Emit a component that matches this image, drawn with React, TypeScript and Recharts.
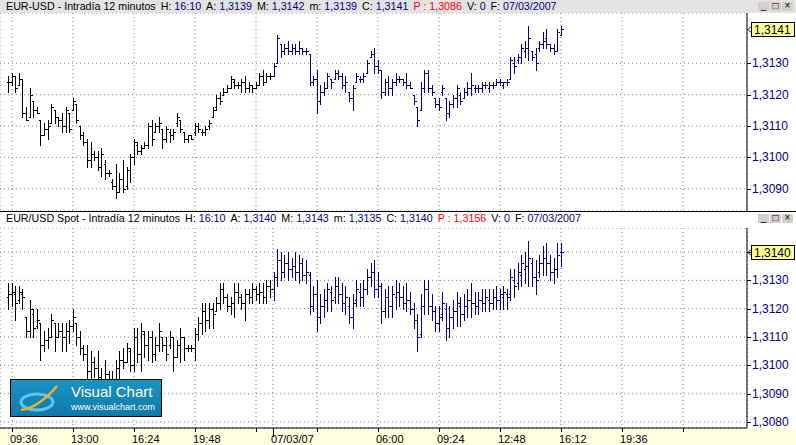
import React from 'react';
import { ComposedChart, Bar, XAxis, YAxis, CartesianGrid, ReferenceLine } from 'recharts';

type Ohlc = [number, number, number, number]; // open, high, low, close

// 12 minute bars. t = bar count from 09:36 of 06/03/2007
const DAY1_FIRST_T = -1;
const DAY2_FIRST_T = 73;

const topDay1: Ohlc[] = [
  [1.3124, 1.3126, 1.3121, 1.3124], [1.3124, 1.3127, 1.3123, 1.3126], [1.3126, 1.3126, 1.3121, 1.3122],
  [1.3123, 1.3127, 1.3123, 1.3125], [1.3125, 1.3125, 1.3113, 1.3114], [1.3114, 1.3116, 1.3112, 1.3112],
  [1.3113, 1.3122, 1.3113, 1.3120], [1.3118, 1.3118, 1.3113, 1.3115], [1.3115, 1.3116, 1.3114, 1.3114],
  [1.3112, 1.3112, 1.3104, 1.3107], [1.3107, 1.3111, 1.3107, 1.3109], [1.3109, 1.3112, 1.3106, 1.3110],
  [1.3111, 1.3117, 1.3111, 1.3116], [1.3115, 1.3115, 1.3111, 1.3113], [1.3113, 1.3113, 1.3110, 1.3112],
  [1.3112, 1.3114, 1.3108, 1.3110], [1.3110, 1.3116, 1.3108, 1.3115], [1.3114, 1.3114, 1.3108, 1.3109],
  [1.3115, 1.3119, 1.3115, 1.3118], [1.3117, 1.3117, 1.3111, 1.3112], [1.3110, 1.3110, 1.3106, 1.3107],
  [1.3107, 1.3108, 1.3104, 1.3105], [1.3105, 1.3106, 1.3097, 1.3099], [1.3099, 1.3105, 1.3097, 1.3101],
  [1.3101, 1.3102, 1.3099, 1.3100], [1.3100, 1.3102, 1.3096, 1.3097], [1.3097, 1.3103, 1.3094, 1.3101],
  [1.3098, 1.3099, 1.3093, 1.3095], [1.3095, 1.3096, 1.3094, 1.3095], [1.3092, 1.3093, 1.3090, 1.3091],
  [1.3091, 1.3098, 1.3087, 1.3089], [1.3089, 1.3095, 1.3089, 1.3093], [1.3093, 1.3099, 1.3089, 1.3090],
  [1.3091, 1.3097, 1.3090, 1.3096], [1.3096, 1.3101, 1.3092, 1.3100], [1.3100, 1.3106, 1.3098, 1.3105],
  [1.3104, 1.3105, 1.3101, 1.3102], [1.3102, 1.3104, 1.3101, 1.3103], [1.3103, 1.3105, 1.3103, 1.3104],
  [1.3104, 1.3111, 1.3103, 1.3110], [1.3110, 1.3112, 1.3104, 1.3106], [1.3108, 1.3111, 1.3108, 1.3110],
  [1.3110, 1.3113, 1.3108, 1.3111], [1.3109, 1.3109, 1.3103, 1.3106], [1.3106, 1.3110, 1.3105, 1.3109],
  [1.3108, 1.3109, 1.3105, 1.3107], [1.3107, 1.3109, 1.3106, 1.3108], [1.3111, 1.3114, 1.3110, 1.3113],
  [1.3112, 1.3112, 1.3108, 1.3109], [1.3108, 1.3108, 1.3105, 1.3106], [1.3106, 1.3107, 1.3105, 1.3107],
  [1.3107, 1.3107, 1.3106, 1.3106], [1.3108, 1.3111, 1.3107, 1.3110], [1.3110, 1.3111, 1.3108, 1.3109],
  [1.3108, 1.3109, 1.3107, 1.3108], [1.3108, 1.3110, 1.3107, 1.3109], [1.3110, 1.3112, 1.3109, 1.3111],
  [1.3113, 1.3116, 1.3113, 1.3115], [1.3116, 1.3120, 1.3115, 1.3119], [1.3119, 1.3121, 1.3117, 1.3118],
  [1.3120, 1.3122, 1.3120, 1.3121], [1.3121, 1.3123, 1.3121, 1.3122], [1.3122, 1.3126, 1.3122, 1.3125],
  [1.3124, 1.3125, 1.3122, 1.3123], [1.3123, 1.3124, 1.3122, 1.3123], [1.3123, 1.3125, 1.3121, 1.3124],
  [1.3124, 1.3126, 1.3121, 1.3122], [1.3122, 1.3124, 1.3121, 1.3123], [1.3123, 1.3123, 1.3121, 1.3122],
  [1.3122, 1.3124, 1.3122, 1.3123], [1.3123, 1.3127, 1.3123, 1.3126], [1.3126, 1.3128, 1.3123, 1.3124],
  [1.3124, 1.3127, 1.3124, 1.3126], [1.3126, 1.3127, 1.3125, 1.3126],
];

const topDay2: Ohlc[] = [
  [1.3126, 1.3130, 1.3126, 1.3129], [1.3130, 1.3139, 1.3130, 1.3138], [1.3136, 1.3136, 1.3132, 1.3134],
  [1.3134, 1.3136, 1.3133, 1.3135], [1.3135, 1.3137, 1.3133, 1.3134], [1.3134, 1.3136, 1.3133, 1.3135],
  [1.3135, 1.3136, 1.3133, 1.3134], [1.3134, 1.3137, 1.3133, 1.3135], [1.3135, 1.3135, 1.3133, 1.3134],
  [1.3134, 1.3135, 1.3133, 1.3134], [1.3133, 1.3133, 1.3123, 1.3124], [1.3124, 1.3126, 1.3123, 1.3125],
  [1.3125, 1.3128, 1.3114, 1.3118], [1.3118, 1.3123, 1.3117, 1.3121], [1.3121, 1.3124, 1.3120, 1.3122],
  [1.3122, 1.3127, 1.3122, 1.3126], [1.3125, 1.3125, 1.3122, 1.3124], [1.3125, 1.3128, 1.3125, 1.3127],
  [1.3127, 1.3128, 1.3125, 1.3126], [1.3126, 1.3127, 1.3122, 1.3123], [1.3123, 1.3126, 1.3121, 1.3124],
  [1.3121, 1.3121, 1.3118, 1.3119], [1.3119, 1.3123, 1.3115, 1.3122], [1.3124, 1.3127, 1.3124, 1.3126],
  [1.3125, 1.3126, 1.3124, 1.3125], [1.3125, 1.3127, 1.3124, 1.3126], [1.3127, 1.3131, 1.3127, 1.3130],
  [1.3132, 1.3134, 1.3132, 1.3133], [1.3133, 1.3135, 1.3127, 1.3129], [1.3129, 1.3131, 1.3127, 1.3128],
  [1.3128, 1.3128, 1.3119, 1.3121], [1.3121, 1.3125, 1.3120, 1.3124], [1.3124, 1.3126, 1.3120, 1.3122],
  [1.3122, 1.3125, 1.3120, 1.3124], [1.3124, 1.3127, 1.3123, 1.3125], [1.3125, 1.3126, 1.3124, 1.3125],
  [1.3125, 1.3125, 1.3123, 1.3124], [1.3124, 1.3127, 1.3122, 1.3123], [1.3123, 1.3124, 1.3122, 1.3122],
  [1.3120, 1.3120, 1.3117, 1.3118], [1.3116, 1.3116, 1.3110, 1.3112], [1.3115, 1.3124, 1.3115, 1.3122],
  [1.3122, 1.3128, 1.3121, 1.3127], [1.3127, 1.3128, 1.3121, 1.3122], [1.3122, 1.3123, 1.3120, 1.3121],
  [1.3119, 1.3119, 1.3116, 1.3117], [1.3117, 1.3119, 1.3115, 1.3116], [1.3121, 1.3123, 1.3120, 1.3122],
  [1.3119, 1.3119, 1.3112, 1.3114], [1.3114, 1.3118, 1.3113, 1.3117], [1.3117, 1.3120, 1.3116, 1.3119],
  [1.3119, 1.3123, 1.3116, 1.3122], [1.3120, 1.3121, 1.3117, 1.3118], [1.3119, 1.3122, 1.3119, 1.3121],
  [1.3121, 1.3124, 1.3120, 1.3122], [1.3122, 1.3127, 1.3120, 1.3123], [1.3122, 1.3123, 1.3121, 1.3122],
  [1.3122, 1.3123, 1.3121, 1.3122], [1.3122, 1.3124, 1.3121, 1.3123], [1.3123, 1.3124, 1.3122, 1.3123],
  [1.3122, 1.3124, 1.3121, 1.3123], [1.3123, 1.3124, 1.3122, 1.3123], [1.3123, 1.3125, 1.3123, 1.3124],
  [1.3124, 1.3125, 1.3123, 1.3124], [1.3123, 1.3124, 1.3122, 1.3124], [1.3124, 1.3125, 1.3123, 1.3124],
  [1.3125, 1.3132, 1.3125, 1.3131], [1.3130, 1.3132, 1.3127, 1.3129], [1.3131, 1.3133, 1.3130, 1.3132],
  [1.3132, 1.3136, 1.3130, 1.3135], [1.3134, 1.3137, 1.3132, 1.3135], [1.3135, 1.3142, 1.3131, 1.3138],
  [1.3134, 1.3134, 1.3131, 1.3132], [1.3133, 1.3135, 1.3128, 1.3130], [1.3135, 1.3137, 1.3134, 1.3136],
  [1.3136, 1.3140, 1.3135, 1.3137], [1.3138, 1.3141, 1.3135, 1.3136], [1.3136, 1.3136, 1.3134, 1.3135],
  [1.3135, 1.3136, 1.3133, 1.3134], [1.3134, 1.3141, 1.3134, 1.3140], [1.3139, 1.3142, 1.3139, 1.3141],
];

const botDay1: Ohlc[] = [
  [1.3124, 1.3129, 1.3120, 1.3125], [1.3125, 1.3129, 1.3121, 1.3126], [1.3125, 1.3128, 1.3116, 1.3122],
  [1.3123, 1.3128, 1.3122, 1.3126], [1.3125, 1.3127, 1.3120, 1.3124], [1.3117, 1.3117, 1.3110, 1.3112],
  [1.3112, 1.3123, 1.3110, 1.3120], [1.3118, 1.3120, 1.3110, 1.3113], [1.3114, 1.3120, 1.3113, 1.3116],
  [1.3115, 1.3115, 1.3102, 1.3107], [1.3107, 1.3112, 1.3105, 1.3109], [1.3109, 1.3113, 1.3106, 1.3110],
  [1.3110, 1.3118, 1.3110, 1.3116], [1.3115, 1.3115, 1.3105, 1.3110], [1.3110, 1.3115, 1.3110, 1.3112],
  [1.3112, 1.3115, 1.3105, 1.3110], [1.3110, 1.3115, 1.3105, 1.3112], [1.3112, 1.3116, 1.3108, 1.3114],
  [1.3114, 1.3120, 1.3112, 1.3117], [1.3115, 1.3115, 1.3107, 1.3110], [1.3110, 1.3112, 1.3104, 1.3106],
  [1.3106, 1.3107, 1.3102, 1.3104], [1.3104, 1.3107, 1.3095, 1.3098], [1.3098, 1.3105, 1.3093, 1.3101],
  [1.3101, 1.3103, 1.3096, 1.3099], [1.3099, 1.3105, 1.3093, 1.3096], [1.3096, 1.3099, 1.3092, 1.3094],
  [1.3094, 1.3102, 1.3091, 1.3097], [1.3097, 1.3098, 1.3089, 1.3092], [1.3092, 1.3098, 1.3088, 1.3095],
  [1.3095, 1.3102, 1.3091, 1.3099], [1.3099, 1.3105, 1.3093, 1.3102], [1.3102, 1.3106, 1.3099, 1.3101],
  [1.3101, 1.3108, 1.3101, 1.3106], [1.3105, 1.3106, 1.3098, 1.3100], [1.3100, 1.3113, 1.3098, 1.3110],
  [1.3110, 1.3113, 1.3101, 1.3104], [1.3104, 1.3115, 1.3098, 1.3112], [1.3111, 1.3112, 1.3103, 1.3107],
  [1.3107, 1.3112, 1.3102, 1.3110], [1.3110, 1.3112, 1.3101, 1.3104], [1.3104, 1.3110, 1.3102, 1.3107],
  [1.3107, 1.3115, 1.3105, 1.3112], [1.3110, 1.3110, 1.3105, 1.3107], [1.3107, 1.3110, 1.3102, 1.3104],
  [1.3107, 1.3112, 1.3106, 1.3110], [1.3110, 1.3110, 1.3098, 1.3103], [1.3103, 1.3109, 1.3103, 1.3107],
  [1.3107, 1.3113, 1.3101, 1.3110], [1.3110, 1.3110, 1.3102, 1.3106], [1.3106, 1.3107, 1.3105, 1.3106],
  [1.3106, 1.3107, 1.3105, 1.3106], [1.3106, 1.3113, 1.3102, 1.3111], [1.3111, 1.3117, 1.3109, 1.3115],
  [1.3115, 1.3122, 1.3111, 1.3119], [1.3119, 1.3122, 1.3112, 1.3116], [1.3116, 1.3122, 1.3113, 1.3120],
  [1.3120, 1.3122, 1.3113, 1.3118], [1.3119, 1.3124, 1.3119, 1.3122], [1.3122, 1.3129, 1.3120, 1.3127],
  [1.3127, 1.3129, 1.3122, 1.3124], [1.3124, 1.3125, 1.3119, 1.3121], [1.3121, 1.3124, 1.3118, 1.3122],
  [1.3122, 1.3129, 1.3117, 1.3126], [1.3126, 1.3129, 1.3122, 1.3124], [1.3124, 1.3125, 1.3120, 1.3122],
  [1.3122, 1.3127, 1.3116, 1.3125], [1.3125, 1.3127, 1.3122, 1.3124], [1.3124, 1.3129, 1.3122, 1.3127],
  [1.3127, 1.3128, 1.3123, 1.3125], [1.3125, 1.3129, 1.3122, 1.3126], [1.3126, 1.3129, 1.3122, 1.3124],
  [1.3124, 1.3130, 1.3122, 1.3128], [1.3128, 1.3130, 1.3124, 1.3127],
];

const botDay2: Ohlc[] = [
  [1.3127, 1.3133, 1.3123, 1.3131], [1.3131, 1.3141, 1.3128, 1.3137], [1.3137, 1.3140, 1.3130, 1.3133],
  [1.3133, 1.3139, 1.3131, 1.3136], [1.3136, 1.3140, 1.3130, 1.3134], [1.3134, 1.3138, 1.3131, 1.3135],
  [1.3135, 1.3140, 1.3130, 1.3133], [1.3133, 1.3139, 1.3129, 1.3136], [1.3136, 1.3138, 1.3130, 1.3132],
  [1.3132, 1.3137, 1.3129, 1.3133], [1.3132, 1.3133, 1.3118, 1.3121], [1.3121, 1.3128, 1.3119, 1.3125],
  [1.3125, 1.3130, 1.3112, 1.3117], [1.3117, 1.3125, 1.3115, 1.3121], [1.3121, 1.3127, 1.3117, 1.3123],
  [1.3123, 1.3129, 1.3119, 1.3127], [1.3126, 1.3128, 1.3119, 1.3123], [1.3124, 1.3131, 1.3122, 1.3128],
  [1.3128, 1.3131, 1.3122, 1.3125], [1.3125, 1.3129, 1.3119, 1.3122], [1.3122, 1.3128, 1.3118, 1.3124],
  [1.3121, 1.3124, 1.3115, 1.3117], [1.3117, 1.3125, 1.3113, 1.3122], [1.3123, 1.3130, 1.3121, 1.3127],
  [1.3126, 1.3129, 1.3121, 1.3124], [1.3124, 1.3130, 1.3121, 1.3127], [1.3127, 1.3134, 1.3125, 1.3131],
  [1.3131, 1.3136, 1.3128, 1.3133], [1.3133, 1.3137, 1.3124, 1.3127], [1.3127, 1.3133, 1.3124, 1.3128],
  [1.3128, 1.3129, 1.3115, 1.3119], [1.3119, 1.3127, 1.3117, 1.3124], [1.3124, 1.3128, 1.3117, 1.3121],
  [1.3121, 1.3128, 1.3117, 1.3125], [1.3124, 1.3130, 1.3120, 1.3126], [1.3126, 1.3129, 1.3121, 1.3124],
  [1.3124, 1.3128, 1.3120, 1.3122], [1.3122, 1.3129, 1.3119, 1.3123], [1.3123, 1.3126, 1.3118, 1.3120],
  [1.3120, 1.3122, 1.3113, 1.3116], [1.3116, 1.3118, 1.3105, 1.3110], [1.3111, 1.3125, 1.3110, 1.3121],
  [1.3121, 1.3130, 1.3118, 1.3127], [1.3127, 1.3130, 1.3118, 1.3121], [1.3121, 1.3125, 1.3116, 1.3119],
  [1.3119, 1.3121, 1.3112, 1.3115], [1.3115, 1.3121, 1.3112, 1.3117], [1.3118, 1.3126, 1.3116, 1.3122],
  [1.3120, 1.3122, 1.3109, 1.3113], [1.3113, 1.3121, 1.3110, 1.3117], [1.3117, 1.3123, 1.3113, 1.3119],
  [1.3119, 1.3126, 1.3114, 1.3122], [1.3121, 1.3124, 1.3114, 1.3118], [1.3118, 1.3125, 1.3116, 1.3121],
  [1.3121, 1.3127, 1.3117, 1.3123], [1.3123, 1.3129, 1.3117, 1.3122], [1.3122, 1.3126, 1.3118, 1.3121],
  [1.3121, 1.3126, 1.3118, 1.3123], [1.3123, 1.3127, 1.3119, 1.3122], [1.3122, 1.3127, 1.3119, 1.3124],
  [1.3123, 1.3127, 1.3119, 1.3122], [1.3122, 1.3127, 1.3120, 1.3124], [1.3124, 1.3128, 1.3120, 1.3123],
  [1.3123, 1.3127, 1.3120, 1.3125], [1.3124, 1.3128, 1.3120, 1.3126], [1.3125, 1.3127, 1.3120, 1.3124],
  [1.3125, 1.3134, 1.3123, 1.3131], [1.3130, 1.3134, 1.3124, 1.3128], [1.3129, 1.3136, 1.3127, 1.3133],
  [1.3132, 1.3139, 1.3128, 1.3136], [1.3134, 1.3140, 1.3129, 1.3135], [1.3135, 1.3144, 1.3128, 1.3138],
  [1.3136, 1.3138, 1.3128, 1.3131], [1.3131, 1.3137, 1.3125, 1.3130], [1.3133, 1.3139, 1.3131, 1.3136],
  [1.3136, 1.3142, 1.3132, 1.3138], [1.3138, 1.3143, 1.3132, 1.3136], [1.3136, 1.3139, 1.3130, 1.3133],
  [1.3133, 1.3138, 1.3129, 1.3134], [1.3134, 1.3143, 1.3131, 1.3139], [1.3140, 1.3143, 1.3135, 1.3140],
];

const topTicks = [1.309, 1.31, 1.311, 1.312, 1.313];
const botTicks = [1.308, 1.309, 1.31, 1.311, 1.312, 1.313, 1.314];

const gridTimes = [0, 17, 34, 51, 68, 85, 102, 119, 136, 153, 170, 187];
const timeLabels: Record<number, string> = {
  0: '09:36', 17: '13:00', 34: '16:24', 51: '19:48', 102: '06:00',
  119: '09:24', 136: '12:48', 153: '16:12', 170: '19:36',
};
const DATE_T = 72.75;
const DATE_LABEL = '07/03/07';

const topInfo = {
  title: 'EUR-USD - Intradía 12 minutos',
  values: [['H:', '16:10'], ['A:', '1,3139'], ['M:', '1,3142'], ['m:', '1,3139'], ['C:', '1,3141']],
  prev: 'P : 1,3086', vol: '0', date: '07/03/2007',
};
const botInfo = {
  title: 'EUR/USD Spot - Intradía 12 minutos',
  values: [['H:', '16:10'], ['A:', '1,3140'], ['M:', '1,3143'], ['m:', '1,3135'], ['C:', '1,3140']],
  prev: 'P : 1,3156', vol: '0', date: '07/03/2007',
};

const FONT = '"Liberation Sans", Arial, sans-serif';
const NAVY = '#000080';
const X_DOMAIN: [number, number] = [-3.344, 204.84];

const toRows = (d1: Ohlc[], d2: Ohlc[]) => [
  ...d1.map(([o, h, l, c], k) => ({ t: DAY1_FIRST_T + k, o, h, l, c, day: 1 })),
  ...d2.map(([o, h, l, c], k) => ({ t: DAY2_FIRST_T + k, o, h, l, c, day: 2 })),
];
const topRows = toRows(topDay1, topDay2);
const botRows = toRows(botDay1, botDay2);

const fmt = (v: number) => v.toFixed(4).replace('.', ',');

const OhlcShape = (props: any) => {
  const { x, y, width, height, payload } = props;
  if (x == null || y == null) return null;
  const color = payload.day === 1 ? '#000000' : NAVY;
  const cx = Math.round(x + width / 2) + 0.5;
  const span = payload.h - payload.l;
  const py = (v: number) => Math.round(span === 0 ? y : y + ((payload.h - v) / span) * height) + 0.5;
  return (
    <g shapeRendering="crispEdges">
      <line x1={cx} x2={cx} y1={Math.round(y)} y2={Math.round(y + height) + 1} stroke={color} strokeWidth={1} />
      <line x1={cx - 2} x2={cx} y1={py(payload.o)} y2={py(payload.o)} stroke={color} strokeWidth={1} />
      <line x1={cx} x2={cx + 2} y1={py(payload.c)} y2={py(payload.c)} stroke={color} strokeWidth={1} />
    </g>
  );
};

const makePriceTick = (last: number) => (props: any) => {
  const { x, y, payload } = props;
  const hidden = Math.abs(payload.value - last) < 0.0004;
  return (
    <g>
      <line x1={x - 8} x2={x - 4} y1={Math.round(y) + 0.5} y2={Math.round(y) + 0.5} stroke="#000" shapeRendering="crispEdges" />
      {!hidden && <text x={x - 3} y={y + 4} fill={NAVY} fontSize={12} fontFamily={FONT}>{fmt(payload.value)}</text>}
    </g>
  );
};

const TimeTick = (props: any) => {
  const { x, y, payload } = props;
  const isDate = payload.value === DATE_T;
  const label = isDate ? DATE_LABEL : timeLabels[payload.value] || '';
  const xx = Math.round(x) + 0.5;
  return (
    <g>
      <line x1={xx} x2={xx} y1={y - 8} y2={y - 8 + (isDate ? 9 : 4)} stroke="#000" shapeRendering="crispEdges" />
      <text x={x - 2} y={y + 7} fill="#000" fontSize={11} fontFamily={FONT}>{label}</text>
    </g>
  );
};

const LastPrice = (props: any) => {
  const { viewBox, value } = props;
  if (!viewBox) return null;
  const ax = viewBox.x + viewBox.width;
  const cy = Math.round(viewBox.y);
  return (
    <g>
      <path d={`M${ax + 1},${cy + 0.5} L${ax + 4},${cy - 2.5} M${ax + 1},${cy + 0.5} L${ax + 4},${cy + 3.5}`} stroke="#000" />
      <rect x={ax + 4.5} y={cy - 6.5} width={43} height={14} fill="#ffff99" stroke="#000" shapeRendering="crispEdges" />
      <text x={ax + 7} y={cy + 5} fontSize={12} fontFamily={FONT} fill="#000">{fmt(value)}</text>
    </g>
  );
};

const WinButtons = ({ top }: { top: number }) => (
  <div style={{ position: 'absolute', left: 758, top, display: 'flex', gap: 1 }}>
    {['_', '□', '×'].map((s) => (
      <div key={s} style={{ width: 11, height: 9, background: '#d4d0c8', fontSize: 10, lineHeight: '8px', textAlign: 'center', color: '#000', fontFamily: FONT }}>{s}</div>
    ))}
  </div>
);

const Header = ({ info, top, bg }: { info: typeof topInfo; top: number; bg: string }) => (
  <div style={{ position: 'absolute', left: 0, top, width: 796, height: 13, background: bg, fontFamily: FONT, fontSize: 10.7, lineHeight: '13px', whiteSpace: 'nowrap', color: '#000' }}>
    <span style={{ marginLeft: 6 }}>{info.title}</span>
    {info.values.map(([k, v]) => (
      <span key={k} style={{ marginLeft: 5 }}>{k} <span style={{ color: NAVY }}>{v}</span></span>
    ))}
    <span style={{ marginLeft: 5, color: '#ff0000' }}>{info.prev}</span>
    <span style={{ marginLeft: 5 }}>V: <span style={{ color: NAVY }}>{info.vol}</span></span>
    <span style={{ marginLeft: 5 }}>F: <span style={{ color: NAVY }}>{info.date}</span></span>
  </div>
);

const Logo = () => (
  <div style={{ position: 'absolute', left: 10, top: 379, width: 152, height: 38, boxSizing: 'border-box', border: '1px solid #000', background: 'linear-gradient(#1b93c4, #0f7aa8)', fontFamily: FONT, color: '#fff' }}>
    <svg width={56} height={36} style={{ position: 'absolute', left: 2, top: 0 }}>
      <ellipse cx={24} cy={22} rx={16} ry={8} fill="none" stroke="#5cc6f0" strokeWidth={3} />
      <path d="M8,30 C22,28 34,18 44,6" fill="none" stroke="#f2b21c" strokeWidth={2.5} />
    </svg>
    <div style={{ position: 'absolute', left: 60, top: 3, fontSize: 15 }}>Visual Chart</div>
    <div style={{ position: 'absolute', left: 60, top: 22, fontSize: 9 }}>www.visualchart.com</div>
  </div>
);

const Panel = ({ rows, domain, ticks, last, height, showX }: any) => {
  const PriceTick = makePriceTick(last);
  return (
    <ComposedChart width={796} height={height} data={rows} margin={{ top: 0, right: 0, bottom: 0, left: 0 }}>
      <CartesianGrid stroke="#808080" strokeDasharray="1 3" />
      <XAxis
        type="number" dataKey="t" domain={X_DOMAIN} allowDataOverflow
        ticks={showX ? [...gridTimes.slice(0, 5), DATE_T, ...gridTimes.slice(5)] : gridTimes}
        hide={!showX} height={showX ? 17 : 0}
        axisLine={{ stroke: '#000' }} tickLine={false} tick={<TimeTick />} interval={0}
      />
      <YAxis
        orientation="right" type="number" width={49} domain={domain} allowDataOverflow ticks={ticks}
        axisLine={{ stroke: '#000' }} tickLine={false} tick={<PriceTick />} interval={0}
      />
      <Bar dataKey={(d: any) => [d.l, d.h]} barSize={3} shape={<OhlcShape />} isAnimationActive={false} />
      <ReferenceLine y={last} stroke="none" label={<LastPrice value={last} />} />
    </ComposedChart>
  );
};

export default function App() {
  const topLast = topDay2[topDay2.length - 1][3];
  const botLast = botDay2[botDay2.length - 1][3];
  return (
    <div style={{ position: 'absolute', left: 0, top: 0, width: 796, height: 445, background: '#fff', overflow: 'hidden' }}>
      <div style={{ position: 'absolute', left: 0, top: 428, width: 796, height: 17, background: '#ffffe1' }} />
      <Header info={topInfo} top={0} bg="#e3e3e3" />
      <WinButtons top={2} />
      <div style={{ position: 'absolute', left: 0, top: 13 }}>
        <Panel rows={topRows} domain={[1.308289, 1.314604]} ticks={topTicks} last={topLast} height={198} showX={false} />
      </div>
      <div style={{ position: 'absolute', left: 0, top: 211, width: 796, height: 1, background: '#000' }} />
      <Header info={botInfo} top={212} bg="#fff" />
      <WinButtons top={214} />
      <div style={{ position: 'absolute', left: 0, top: 228 }}>
        <Panel rows={botRows} domain={[1.307788, 1.314847]} ticks={botTicks} last={botLast} height={217} showX />
      </div>
      <Logo />
    </div>
  );
}
